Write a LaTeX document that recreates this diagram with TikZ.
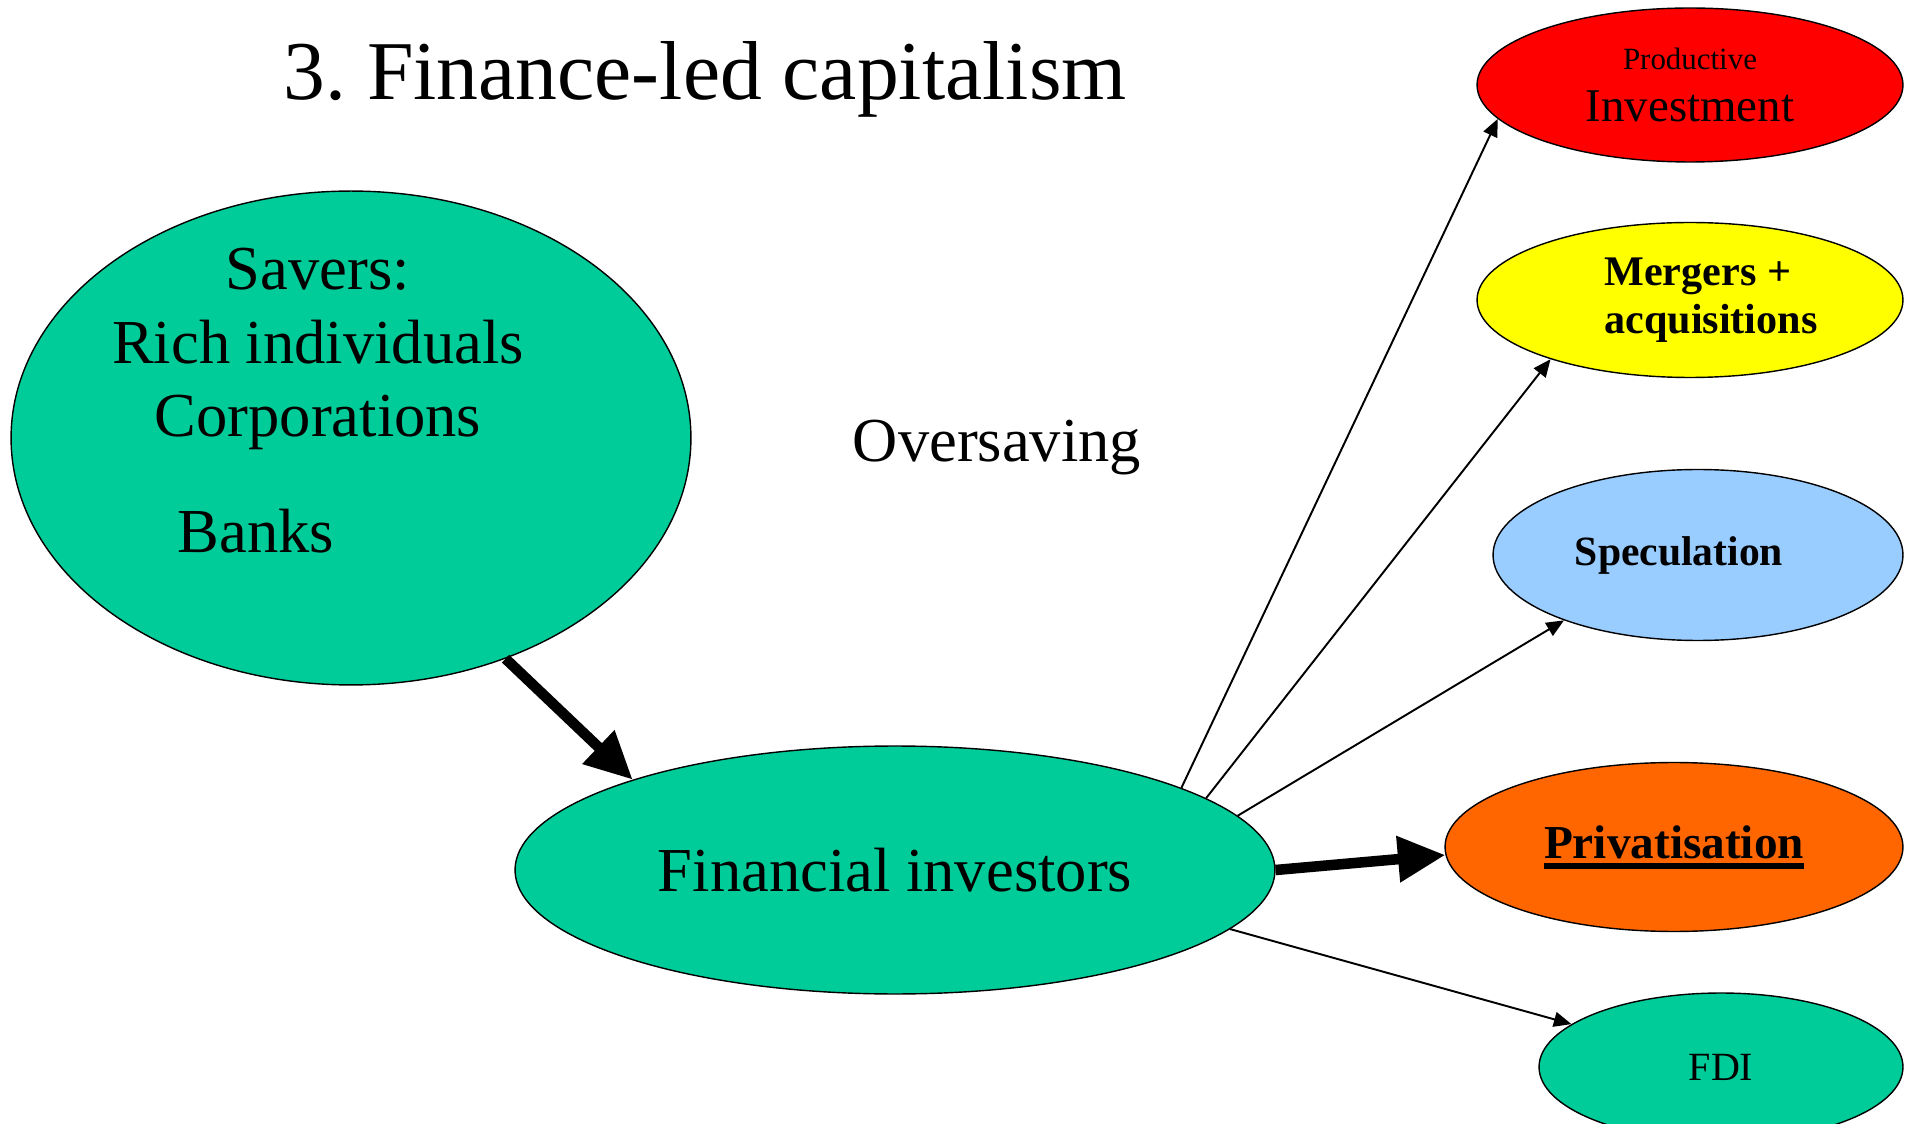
\documentclass[tikz,border=0pt]{standalone}
\usepackage{fontspec}
\setmainfont{Liberation Serif}
\usetikzlibrary{arrows.meta,shapes.geometric}

\definecolor{saverteal}{RGB}{0,204,153}
\definecolor{prodred}{RGB}{255,0,0}
\definecolor{mergyellow}{RGB}{255,255,0}
\definecolor{specblue}{RGB}{153,204,255}
\definecolor{privorange}{RGB}{255,102,0}

\newcommand{\privline}[1]{\setbox0\hbox{#1}\rlap{\copy0}\rule[-6pt]{\wd0}{3pt}}

\begin{document}
\frenchspacing
\begin{tikzpicture}[x=0.02cm,y=-0.02cm,
  blob/.style={ellipse,draw=black,line width=0.8pt,inner sep=0pt},
  bigtext/.style={font=\fontsize{35.6}{42}\selectfont},
  bigarrow/.style={line width=6pt,-{Triangle[length=27pt,width=25pt]}},
  smallarrow/.style={line width=1.1pt,-{Triangle[length=10pt,width=8.5pt]}}]

\useasboundingbox (0,0) rectangle (1910,1124);

\node[anchor=base,font=\fontsize{47.6}{56}\selectfont] (title) at (705,100) {3. Finance-led capitalism};

\node[blob,fill=saverteal,minimum width=13.6cm,minimum height=9.88cm] (savers) at (351,438) {};
\node[bigtext,align=center] (savertypes) at (318,349) {Savers:\\Rich individuals\\Corporations};
\node[bigtext,anchor=base] (banks) at (256,553) {Banks};
\node[bigtext,anchor=base] (oversaving) at (997,462) {Oversaving};

\node[blob,bigtext,fill=saverteal,minimum width=15.2cm,minimum height=4.96cm] (fin) at (895,870) {Financial investors};

\node[blob,fill=prodred,minimum width=8.52cm,minimum height=3.08cm,align=center,font=\fontsize{26.7}{29.6}\selectfont] (prod) at (1690,85) {{\fontsize{17.6}{20}\selectfont Productive}\\Investment};
\node[blob,fill=mergyellow,minimum width=8.52cm,minimum height=3.1cm,align=left,font=\bfseries\fontsize{24}{27.3}\selectfont] (merg) at (1690,300) {\hspace*{0.84cm}Mergers +\\\hspace*{0.84cm}acquisitions};
\node[blob,fill=specblue,minimum width=8.2cm,minimum height=3.42cm,font=\bfseries\fontsize{23.7}{28}\selectfont] (spec) at (1698,555) {Speculation\hspace*{0.76cm}};
\node[blob,fill=privorange,minimum width=9.16cm,minimum height=3.38cm,font=\bfseries\fontsize{26.9}{32}\selectfont] (priv) at (1674,847) {\privline{Privatisation}};
\node[blob,fill=saverteal,minimum width=7.28cm,minimum height=2.96cm,font=\fontsize{22.8}{27}\selectfont] (fdi) at (1721,1067) {FDI};

\draw[bigarrow] (savers.-55) -- (fin.161);
\draw[bigarrow] (fin.east) -- (priv.182);
\draw[smallarrow] (fin.16) -- (prod.190);
\draw[smallarrow] (fin.13) -- (merg.203);
\draw[smallarrow] (fin.9) -- (spec.206);
\draw[smallarrow] (fin.-10) -- (fdi.164);
\end{tikzpicture}
\end{document}
